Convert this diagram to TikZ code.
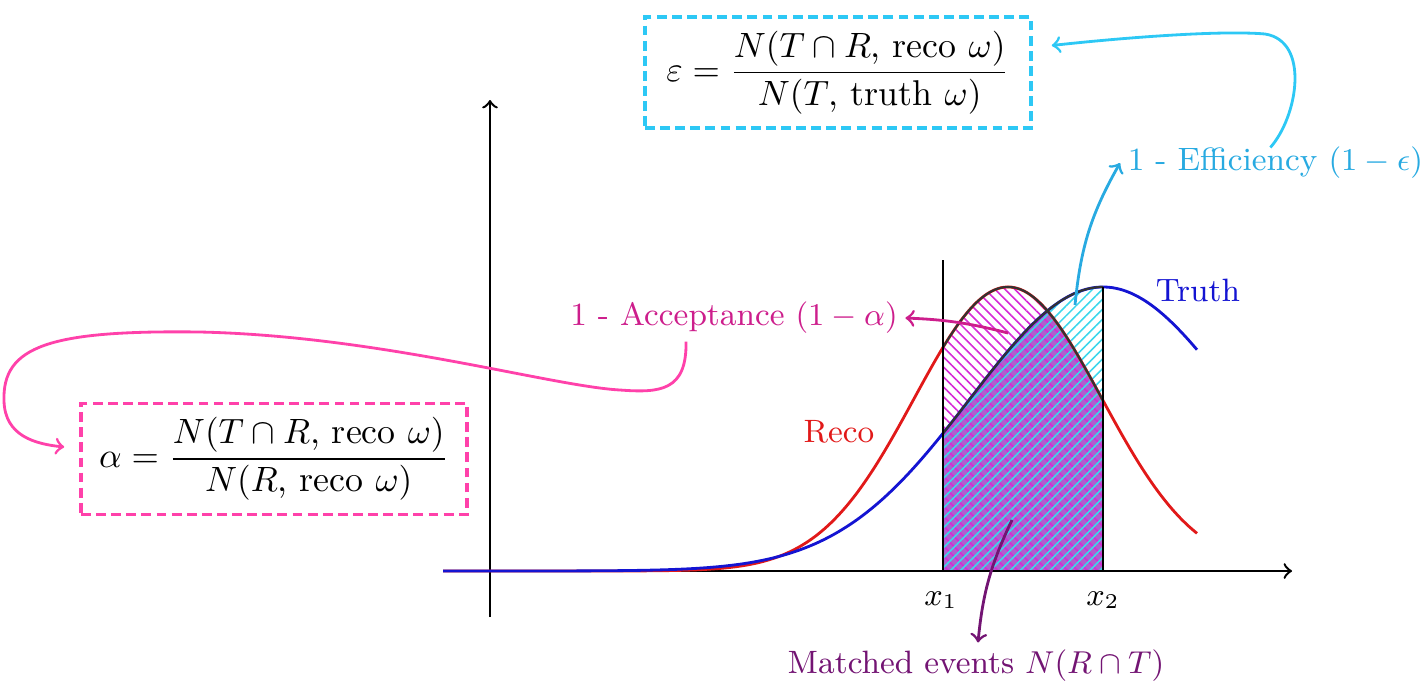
\documentclass[tikz,border=0pt]{standalone}
\usepackage{amsmath,amsfonts,amssymb}
\usepackage{tikz}
\usetikzlibrary{arrows,positioning,patterns.meta}

\definecolor{recocol}{RGB}{225,25,25}
\definecolor{truthcol}{RGB}{20,20,210}
\definecolor{acccol}{RGB}{205,30,140}
\definecolor{alphacol}{RGB}{255,65,170}
\definecolor{effcol}{RGB}{40,170,225}
\definecolor{epscol}{RGB}{45,200,245}
\definecolor{matchcol}{RGB}{115,20,115}
\definecolor{bothcol}{RGB}{175,95,205}
\definecolor{hatchmag}{RGB}{215,40,215}
\definecolor{hatchcyan}{RGB}{60,215,235}

\begin{document}
\begin{tikzpicture}[
  declare function={
    reco(\x)=1.15+2.84*exp(-(\x-10.08)*(\x-10.08)/1.7672);
    truth(\x)=1.15+2.84*exp(-(\x-11.03)*(\x-11.03)/3.5378);
  },
  lbl/.style={font=\fontsize{9.2}{11}\selectfont, inner sep=2pt},
  formula/.style={line width=1pt, dash pattern=on 2.8pt off 1.5pt, minimum width=3.86cm,
    minimum height=1.11cm, font=\fontsize{10.2}{12}\selectfont},
  curve/.style={thick, smooth, samples=90},
  axis/.style={line width=0.7pt, ->},
  pointer/.style={->, thick}
]
\useasboundingbox (0,0) rectangle (14.21,6.86);

\fill[bothcol] (9.43,1.15) -- plot[smooth, samples=30, domain=9.43:10.473] (\x,{truth(\x)})
  -- plot[smooth, samples=20, domain=10.473:11.03] (\x,{reco(\x)}) -- (11.03,1.15) -- cycle;
\path[pattern={Lines[angle=-45, distance=2pt, line width=0.45pt]}, pattern color=hatchmag]
  (9.43,1.15) -- plot[smooth, samples=40, domain=9.43:11.03] (\x,{reco(\x)}) -- (11.03,1.15) -- cycle;
\path[pattern={Lines[angle=45, distance=2pt, line width=0.45pt]}, pattern color=hatchcyan]
  (9.43,1.15) -- plot[smooth, samples=40, domain=9.43:11.03] (\x,{truth(\x)}) -- (11.03,1.15) -- cycle;

\draw[axis] (4.43,1.15) -- (12.92,1.15);
\draw[axis] (4.90,0.69) -- (4.90,5.86);

\draw[curve, recocol] plot[domain=4.43:11.97] (\x,{reco(\x)});
\draw[curve, truthcol] plot[domain=4.43:11.97] (\x,{truth(\x)});
\draw[semithick, black!80] plot[smooth, samples=40, domain=9.43:11.03] (\x,{reco(\x)});
\draw[semithick, black!80] plot[smooth, samples=40, domain=9.43:11.03] (\x,{truth(\x)});
\draw[line width=0.7pt] (9.43,1.15) -- (9.43,4.26);
\draw[line width=0.7pt] (11.03,1.15) -- (11.03,3.99);

\node[lbl] (xone) at (9.41,0.86) {$x_1$};
\node[lbl] (xtwo) at (11.03,0.86) {$x_2$};
\node[lbl, text=recocol] (reco) at (8.39,2.54) {Reco};
\node[lbl, text=truthcol] (truth) at (11.98,3.96) {Truth};
\node[lbl, text=acccol] (accept) at (7.34,3.68) {1 - Acceptance $(1-\alpha)$};
\node[lbl, text=effcol, anchor=west] (effic) at (11.2,5.23) {1 - Efficiency $(1-\epsilon)$};
\node[lbl, text=matchcol] (matched) at (9.76,0.20) {Matched events $N(R\cap T)$};

\node[formula, draw=epscol] (eps) at (8.38,6.135)
  {$\displaystyle \varepsilon=\frac{N(T\cap R\text{, reco }\omega)}{N(T\text{, truth }\omega)}$};
\node[formula, draw=alphacol] (alpha) at (2.74,2.27)
  {$\displaystyle \alpha=\frac{N(T\cap R\text{, reco }\omega)}{N(R\text{, reco }\omega)}$};

\coordinate (inacc) at (10.08,3.53);
\coordinate (ineff) at (10.75,3.81);
\coordinate (inmatch) at (10.12,1.66);
\coordinate (epstip) at ([shift={(0.19,0.27)}]eps.east);
\coordinate (alphatip) at ([shift={(-0.15,0.12)}]alpha.west);

\draw[pointer, acccol] (inacc) to[bend right=6] (accept.east);
\draw[pointer, effcol] (ineff) to[bend left=12] (effic.west);
\draw[pointer, matchcol] (inmatch) to[bend right=10] ([xshift=0.02cm]matched.north);
\draw[pointer, epscol] ([xshift=-0.05cm, yshift=-0.08cm]effic.north)
  .. controls (12.98,5.7) and (13.1,6.45) .. (12.65,6.52)
  .. controls (12.2,6.56) and (11.2,6.48) .. (epstip);
\draw[pointer, alphacol] ([xshift=-0.48cm]accept.south)
  .. controls (6.87,2.95) and (6.6,2.93) .. (6.2,2.96)
  .. controls (5.5,3.0) and (3.8,3.5) .. (2.0,3.54)
  .. controls (0.5,3.56) and (0.02,3.4) .. (0.04,2.85)
  .. controls (0.05,2.5) and (0.35,2.42) .. (alphatip);
\end{tikzpicture}
\end{document}
